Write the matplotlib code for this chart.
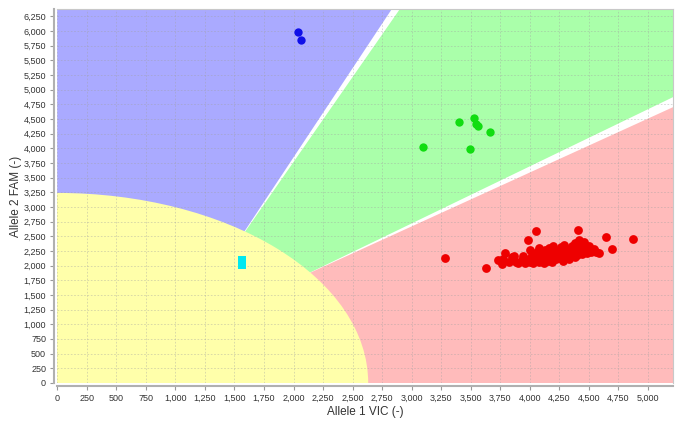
import matplotlib
matplotlib.use("Agg")
import matplotlib.pyplot as plt
import matplotlib.patches as patches
import matplotlib.ticker as mticker

plt.rcParams["font.family"] = ["Liberation Sans", "DejaVu Sans"]

# calls per cluster (VIC, FAM)
blue_x = [2038, 2061]
blue_y = [5982, 5845]

green_x = [3404, 3525, 3545, 3564, 3663, 3094, 3491]
green_y = [4445, 4525, 4423, 4389, 4286, 4025, 3984]

cyan_x = [1568, 1568]
cyan_y = [2008, 2093]

red_x = [3283, 3629, 4052, 4411, 3981, 4648, 4876, 4699, 4417, 4586,
         3727, 3764, 3775, 3792, 3850, 3880, 3900, 3930, 3960, 3990,
         4000, 4020, 4030, 4050, 4060, 4080, 4090, 4100, 4110, 4120,
         4130, 4140, 4150, 4160, 4170, 4180, 4190, 4200, 4210, 4220,
         4230, 4240, 4250, 4260, 4270, 4280, 4290, 4300, 4310, 4320,
         4330, 4340, 4350, 4360, 4370, 4380, 4390, 4400, 4420, 4430,
         4440, 4460, 4480, 4500, 4520, 4540, 4560, 4460, 4380, 4290,
         4200, 3940, 3820, 3870, 4000, 4080]
red_y = [2135, 1952, 2584, 2613, 2430, 2488, 2459, 2283, 2442, 2215,
         2095, 2020, 2112, 2208, 2140, 2070, 2040, 2090, 2050, 2120,
         2060, 2180, 2040, 2100, 2230, 2060, 2150, 2200, 2110, 2040,
         2260, 2180, 2080, 2300, 2140, 2220, 2060, 2290, 2170, 2110,
         2250, 2200, 2130, 2310, 2180, 2080, 2240, 2150, 2290, 2200,
         2120, 2260, 2180, 2330, 2220, 2140, 2280, 2180, 2250, 2320,
         2200, 2290, 2210, 2330, 2240, 2280, 2230, 2400, 2380, 2350,
         2330, 2160, 2060, 2170, 2260, 2300]

XMAX, YMAX = 5214, 6375
ELL_A, ELL_B = 2632, 3240  # no-call ellipse half-axes

fig = plt.figure(figsize=(6.85, 4.28), dpi=100)
ax = fig.add_axes([57.2 / 685, 45 / 428, (673.3 - 57.2) / 685, (383 - 9) / 428])

# cluster regions (ellipse drawn last covers the inner ends)
inner = (1400, 1400)
blue_poly = [(0, 0), (0, YMAX), (2832, YMAX), (1583, 2579), (735, 0)]
green_poly = [(1590, 2579), (2900, YMAX), (XMAX, YMAX), (XMAX, 4875),
              (2139, 1882), inner]
red_poly = [(2139, 1878), (XMAX, 4704), (XMAX, 0), (1400, 0), inner]
for pts, col in [(blue_poly, "#aaaaff"), (green_poly, "#aaffaa"),
                 (red_poly, "#ffbbbb")]:
    ax.add_patch(patches.Polygon(pts, closed=True, facecolor=col,
                                 edgecolor="none", zorder=0.2))
ax.add_patch(patches.Ellipse((0, 0), 2 * ELL_A, 2 * ELL_B, facecolor="#ffffaa",
                             edgecolor="none", zorder=0.3))

ax.scatter(blue_x, blue_y, s=36, color="#1010e8", zorder=3, linewidths=0)
ax.scatter(green_x, green_y, s=36, color="#11dd11", zorder=3, linewidths=0)
ax.scatter(red_x, red_y, s=40, color="#ee0000", zorder=3, linewidths=0)
ax.scatter(cyan_x, cyan_y, s=32, marker="s", color="#00e8f0", zorder=3,
           linewidths=0)

ax.set_xlim(0, XMAX)
ax.set_ylim(0, YMAX)
ax.xaxis.set_major_locator(mticker.MultipleLocator(250))
ax.yaxis.set_major_locator(mticker.MultipleLocator(250))
fmt = mticker.FuncFormatter(lambda v, pos: f"{int(round(v)):,}")
ax.xaxis.set_major_formatter(fmt)
ax.yaxis.set_major_formatter(fmt)
ax.tick_params(labelsize=6.5, length=3, width=0.8, color="#999999",
               labelcolor="#333333", pad=3)

ax.set_axisbelow(True)
ax.grid(True, color="#a0a0a0", linestyle=(0, (2, 2)), linewidth=0.6, alpha=0.45)

for side in ["top", "right"]:
    ax.spines[side].set_color("#c8c8c8")
    ax.spines[side].set_linewidth(0.8)
for side in ["left", "bottom"]:
    ax.spines[side].set_color("#b0b0b0")
    ax.spines[side].set_linewidth(1.5)
    ax.spines[side].set_position(("outward", 2))

ax.set_xlabel("Allele 1 VIC (-)", fontsize=8.5, color="#333333", labelpad=2)
ax.set_ylabel("Allele 2 FAM (-)", fontsize=8.5, color="#333333", labelpad=1)

fig.savefig("out.png", dpi=100)
